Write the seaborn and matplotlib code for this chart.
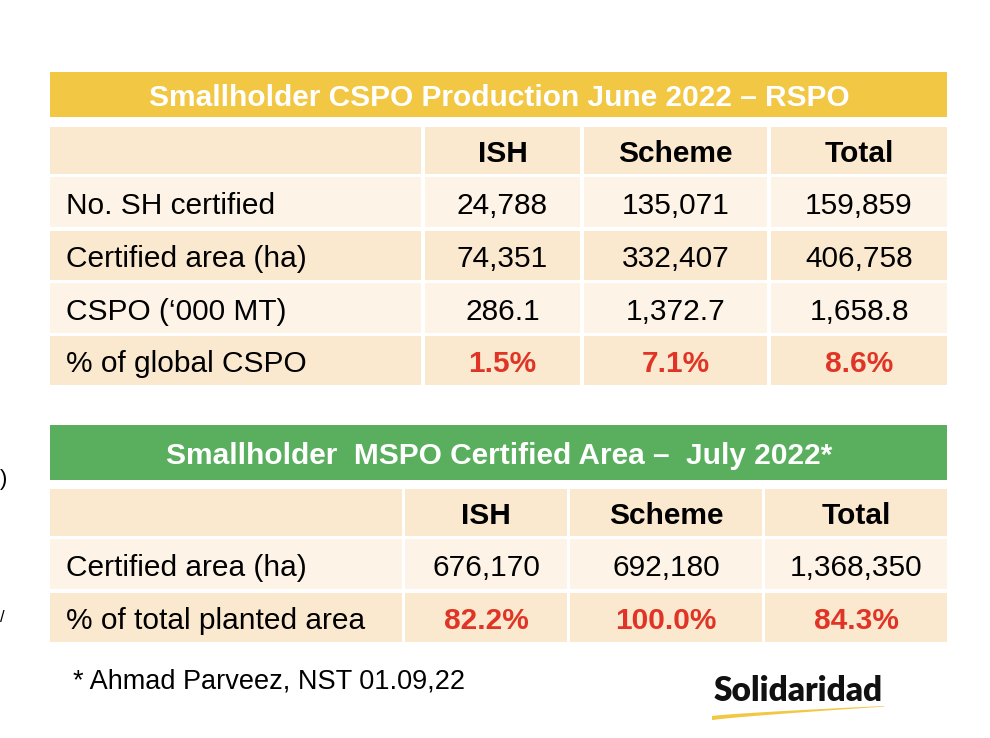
import numpy as np
import matplotlib
matplotlib.use("Agg")
import matplotlib.pyplot as plt
from matplotlib.patches import Rectangle, Polygon
import seaborn as sns

# ---- data ----
rspo_title = "Smallholder CSPO Production June 2022 \u2013 RSPO"
rspo_cols = ["ISH", "Scheme", "Total"]
rspo_rows = ["No. SH certified", "Certified area (ha)", "CSPO (\u2018000 MT)", "% of global CSPO"]
rspo_ish = ["24,788", "74,351", "286.1", "1.5%"]
rspo_scheme = ["135,071", "332,407", "1,372.7", "7.1%"]
rspo_total = ["159,859", "406,758", "1,658.8", "8.6%"]

mspo_title = "Smallholder  MSPO Certified Area \u2013  July 2022*"
mspo_cols = ["ISH", "Scheme", "Total"]
mspo_rows = ["Certified area (ha)", "% of total planted area"]
mspo_ish = ["676,170", "82.2%"]
mspo_scheme = ["692,180", "100.0%"]
mspo_total = ["1,368,350", "84.3%"]

footnote = "* Ahmad Parveez, NST 01.09,22"
logo = "Solidaridad"

# ---- style ----
sns.set_theme(style="white")
plt.rcParams["font.family"] = ["Liberation Sans", "DejaVu Sans"]

YELLOW = "#F2C744"
GREEN = "#5AAF5E"
BEIGE = "#FAE9CF"
LIGHT = "#FDF4E7"
RED = "#E03526"
FS = 21.5
DY = 3.5  # nudge text down a bit so it sits centred like the slide

fig = plt.figure(figsize=(9.9, 7.38), dpi=100)
ax = fig.add_axes([0, 0, 1, 1])
ax.set_xlim(0, 990)
ax.set_ylim(738, 0)
ax.axis("off")


def draw_table(title, title_color, title_y, cols, col_x, header_y, rows, row_y, values, red_last):
    ax.add_patch(Rectangle((50, title_y[0]), 897, title_y[1] - title_y[0], color=title_color, lw=0))
    ax.text(499, (title_y[0] + title_y[1]) / 2 + DY, title, color="white", fontsize=FS,
            fontweight="bold", ha="center", va="center")
    # header row
    for j, (x0, x1) in enumerate(col_x):
        ax.add_patch(Rectangle((x0, header_y[0]), x1 - x0, header_y[1] - header_y[0], color=BEIGE, lw=0))
        if j > 0:
            ax.text((x0 + x1) / 2, (header_y[0] + header_y[1]) / 2 + DY, cols[j - 1], fontsize=FS,
                    fontweight="bold", ha="center", va="center", color="black")
    # body rows
    for i, (y0, y1) in enumerate(row_y):
        fill = LIGHT if i % 2 == 0 else BEIGE
        last = red_last and i == len(row_y) - 1
        yc = (y0 + y1) / 2 + DY
        for j, (x0, x1) in enumerate(col_x):
            ax.add_patch(Rectangle((x0, y0), x1 - x0, y1 - y0, color=fill, lw=0))
            if j == 0:
                ax.text(66, yc, rows[i], fontsize=FS, ha="left", va="center", color="black")
            else:
                ax.text((x0 + x1) / 2, yc, values[j - 1][i], fontsize=FS, ha="center", va="center",
                        color=RED if last else "black", fontweight="bold" if last else "normal")


draw_table(rspo_title, YELLOW, (72, 117), rspo_cols,
           [(50, 421), (425, 580), (584, 767), (771, 947)], (127, 174),
           rspo_rows, [(177, 227), (231, 280), (283, 333), (336, 385)],
           [rspo_ish, rspo_scheme, rspo_total], True)

draw_table(mspo_title, GREEN, (425, 480), mspo_cols,
           [(50, 402), (405, 567), (570, 762), (765, 947)], (489, 536),
           mspo_rows, [(539, 589), (593, 642)],
           [mspo_ish, mspo_scheme, mspo_total], True)

ax.text(73, 681, footnote, fontsize=19.5, ha="left", va="center", color="black")

# logo
ax.text(798, 691, logo, fontsize=24, fontweight="heavy", family=["Lato", "DejaVu Sans"],
        ha="center", va="center", color="#111111")
t = np.linspace(0, 1, 30)
xs = 712 + 172 * t
ytop = 716 - 10 * t ** 0.8
ybot = ytop + 3.5 * (1 - t) + 0.6
ax.add_patch(Polygon(np.column_stack([np.r_[xs, xs[::-1]], np.r_[ytop, ybot[::-1]]]),
                     closed=True, color=YELLOW, lw=0))

# slide fragments at left edge
ax.text(0, 480, ")", fontsize=16, ha="left", va="center", color="black")
ax.text(0, 617, "/", fontsize=12, ha="left", va="center", color="black")

plt.savefig("out.png", dpi=100)
